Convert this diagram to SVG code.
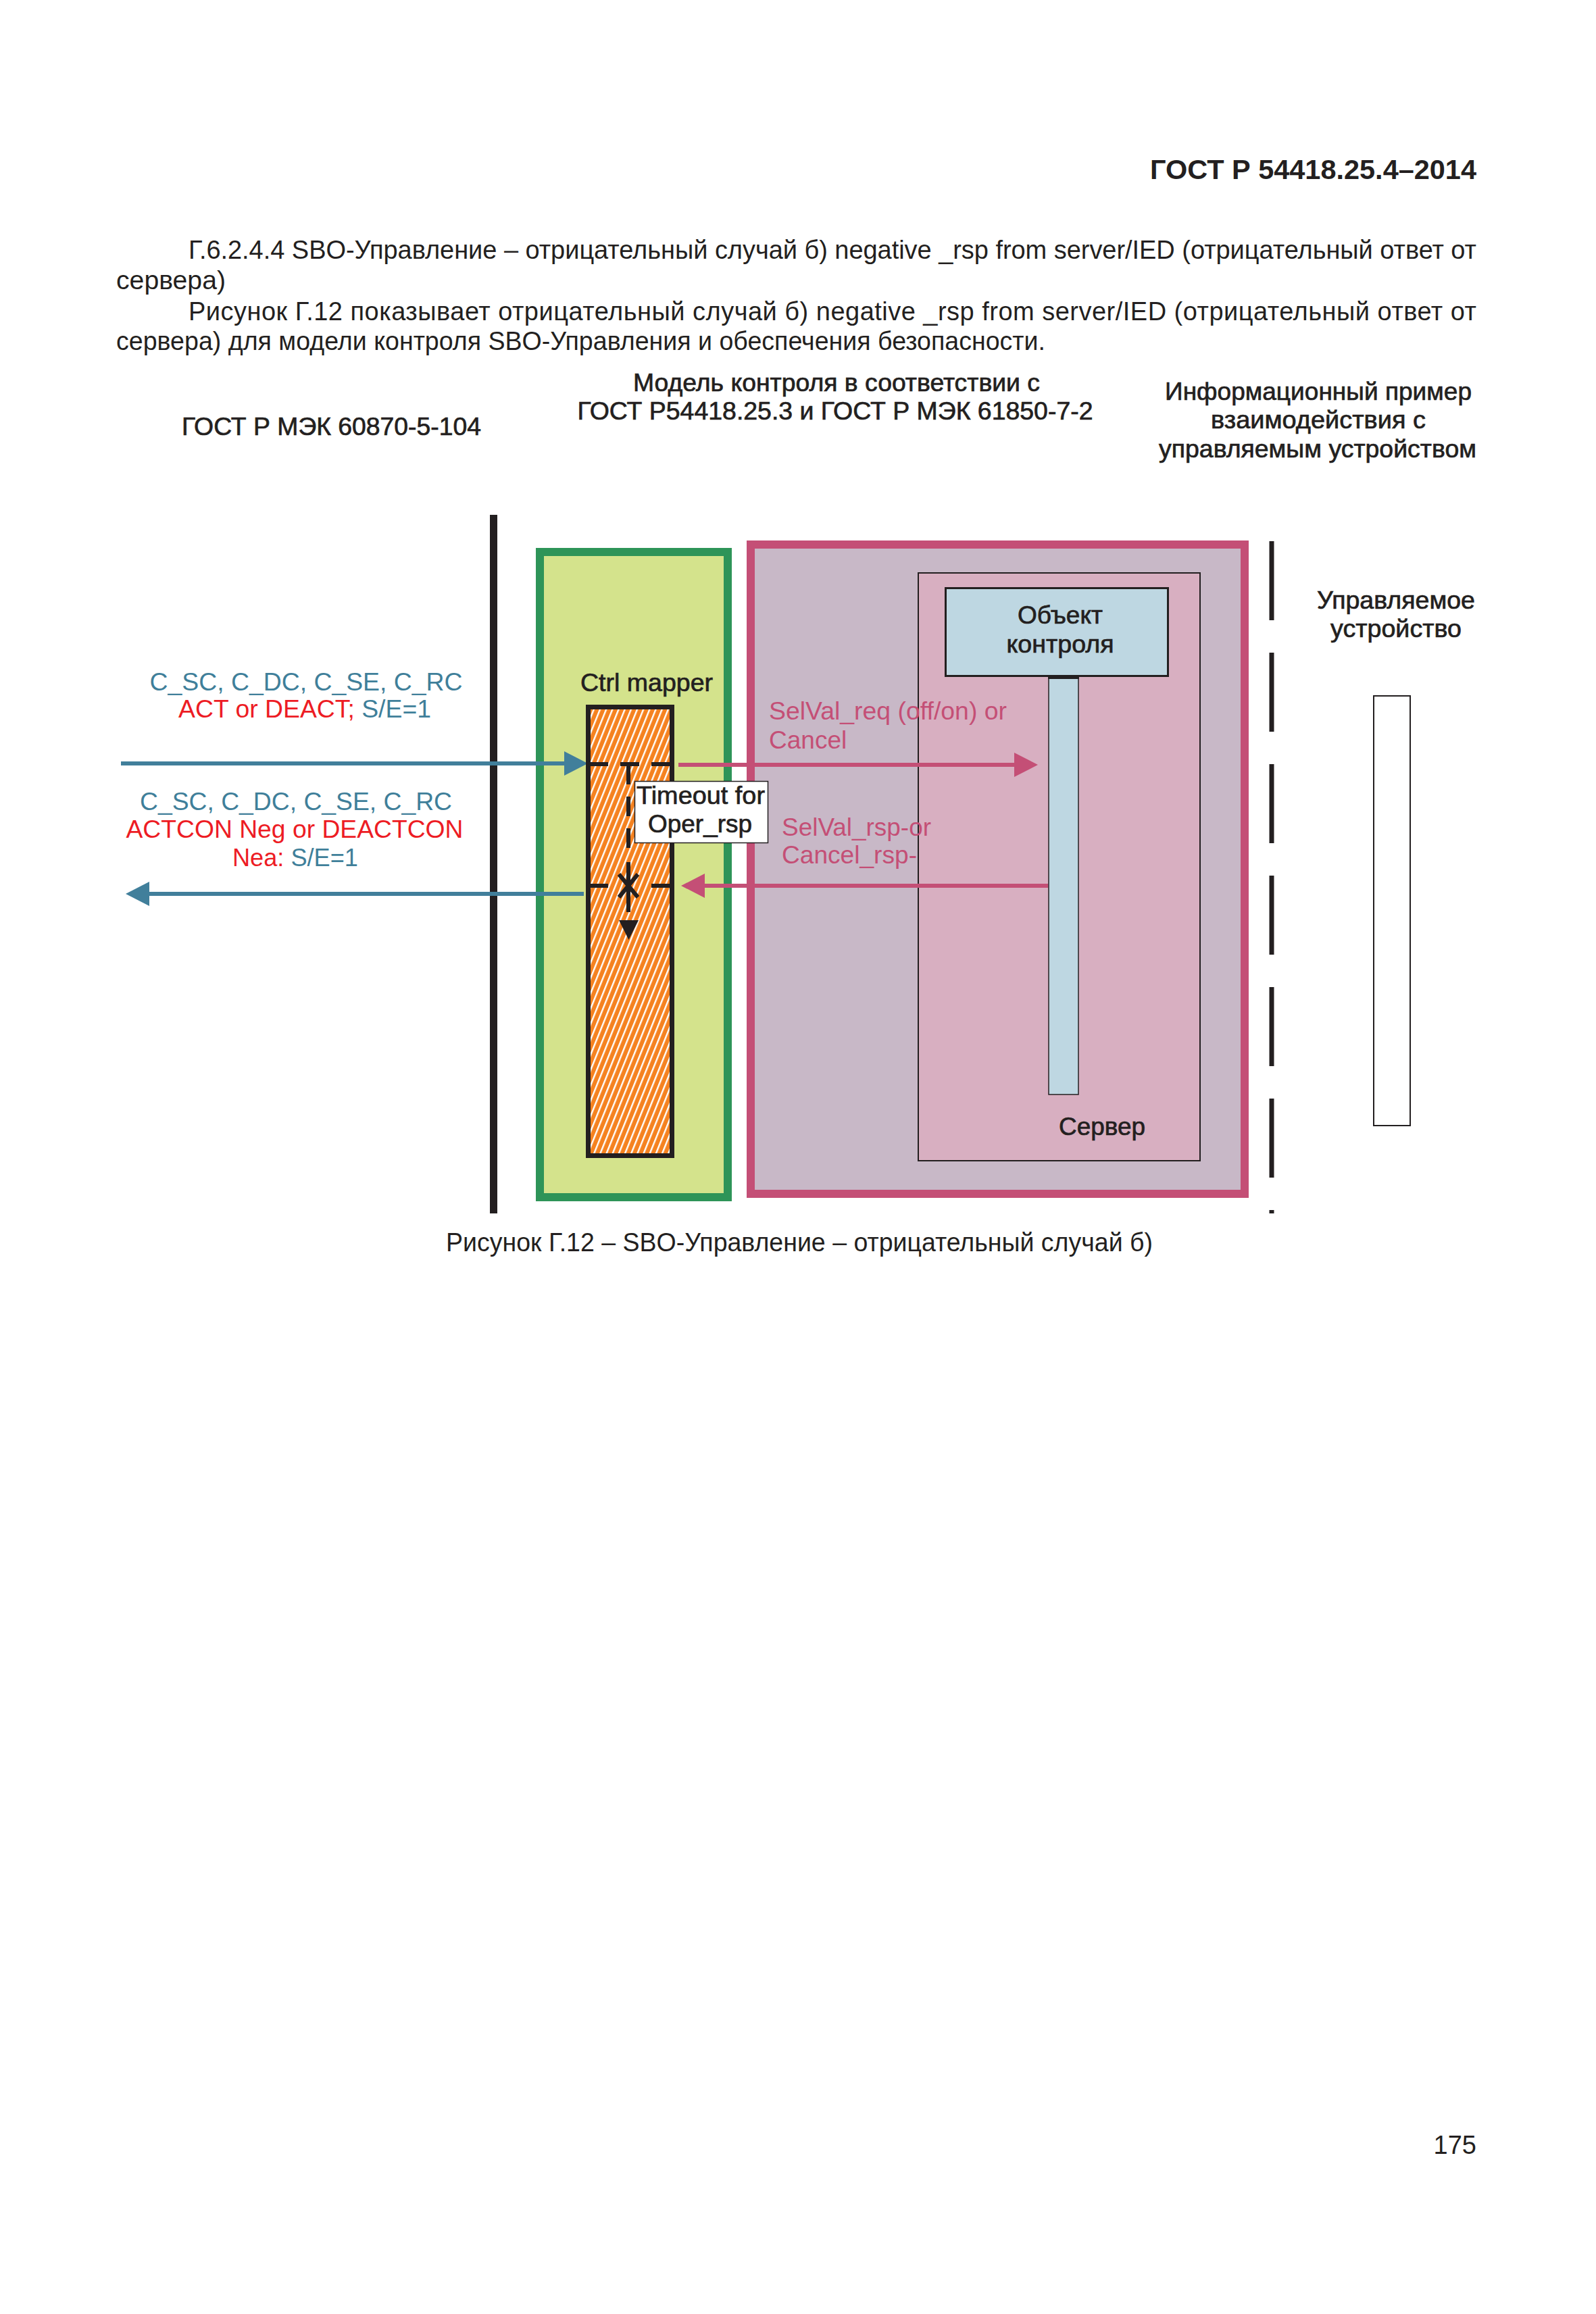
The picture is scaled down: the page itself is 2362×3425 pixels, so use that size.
<svg xmlns="http://www.w3.org/2000/svg" width="2362" height="3425" viewBox="0 0 2362 3425">
<style>
text{font-family:"Liberation Sans",Arial,sans-serif;font-size:37px;fill:#231f20}
.body{font-size:38px}
.hdr{font-weight:bold;font-size:40px}
.med{stroke:#231f20;stroke-width:0.7}
.blue{fill:#3f7f9a}
.red{fill:#ed1c24}
.pink{fill:#c44f76}
.c{text-anchor:middle}
</style>
<defs>
<pattern id="hatch" patternUnits="userSpaceOnUse" width="8.5" height="8.5" patternTransform="rotate(22)">
<rect width="8.5" height="8.5" fill="#f58220"/>
<rect x="0" y="0" width="2.4" height="8.5" fill="#ffffff"/>
</pattern>
<marker id="ahBlue" viewBox="0 0 35 36" refX="0" refY="18" markerWidth="35" markerHeight="36" markerUnits="userSpaceOnUse" orient="auto">
<path d="M0,0 L35,18 L0,36 Z" fill="#417f9b"/>
</marker>
<marker id="ahPink" viewBox="0 0 35 36" refX="0" refY="18" markerWidth="35" markerHeight="36" markerUnits="userSpaceOnUse" orient="auto">
<path d="M0,0 L35,18 L0,36 Z" fill="#c44f76"/>
</marker>
</defs>
<rect width="2362" height="3425" fill="#ffffff"/>

<g id="page-text">
<text class="hdr" x="2185" y="265" text-anchor="end" textLength="483" lengthAdjust="spacingAndGlyphs">ГОСТ Р 54418.25.4–2014</text>
<text class="body" x="279" y="383" textLength="1906" lengthAdjust="spacing">Г.6.2.4.4 SBO-Управление – отрицательный случай б) negative _rsp from server/IED (отрицательный ответ от</text>
<text class="body" x="172" y="428" textLength="162" lengthAdjust="spacingAndGlyphs">сервера)</text>
<text class="body" x="279" y="474" textLength="1906" lengthAdjust="spacing">Рисунок Г.12 показывает отрицательный случай б) negative _rsp from server/IED (отрицательный ответ от</text>
<text class="body" x="172" y="518" textLength="1375" lengthAdjust="spacingAndGlyphs">сервера) для модели контроля SBO-Управления и обеспечения безопасности.</text>
<text class="body" x="660" y="1852" textLength="1046" lengthAdjust="spacingAndGlyphs">Рисунок Г.12 – SBO-Управление – отрицательный случай б)</text>
<text class="body" x="2185" y="3188" text-anchor="end">175</text>
</g>

<g id="column-headers">
<text class="med" x="269" y="644" textLength="443" lengthAdjust="spacingAndGlyphs">ГОСТ Р МЭК 60870-5-104</text>
<text class="med c" x="1238" y="579" textLength="602" lengthAdjust="spacingAndGlyphs">Модель контроля в соответствии с</text>
<text class="med c" x="1236" y="621" textLength="763" lengthAdjust="spacingAndGlyphs">ГОСТ Р54418.25.3 и ГОСТ Р МЭК 61850-7-2</text>
<text class="med c" x="1951" y="592" textLength="454" lengthAdjust="spacingAndGlyphs">Информационный пример</text>
<text class="med c" x="1951" y="634" textLength="318" lengthAdjust="spacingAndGlyphs">взаимодействия с</text>
<text class="med c" x="1950" y="677" textLength="470" lengthAdjust="spacingAndGlyphs">управляемым устройством</text>
</g>

<g id="boundary-lines">
<rect x="725" y="762" width="11" height="1034" fill="#231f20"/>
<line x1="1882" y1="801" x2="1882" y2="1796" stroke="#231f20" stroke-width="7" stroke-dasharray="117 48"/>
</g>

<g id="ctrl-mapper-box">
<rect x="799" y="817" width="278" height="955" fill="#d4e38c" stroke="#2e9458" stroke-width="12"/>
<text class="med c" x="957" y="1023" textLength="196" lengthAdjust="spacingAndGlyphs">Ctrl mapper</text>
</g>

<g id="ctrl-mapper-state">
<rect x="870.5" y="1046.5" width="124" height="664" fill="url(#hatch)" stroke="#231f20" stroke-width="7"/>
</g>

<g id="server-box">
<rect x="1111" y="806" width="731" height="961" fill="#c8b8c7" stroke="#c44f76" stroke-width="12"/>
<rect x="1359" y="848" width="417" height="870" fill="#d8afc1" stroke="#231f20" stroke-width="2"/>
<text class="med c" x="1631" y="1680" textLength="128" lengthAdjust="spacingAndGlyphs">Сервер</text>
</g>

<g id="control-object">
<rect x="1399.5" y="870.5" width="329" height="130" fill="#bed7e2" stroke="#231f20" stroke-width="3"/>
<text class="med c" x="1569" y="923" textLength="126" lengthAdjust="spacingAndGlyphs">Объект</text>
<text class="med c" x="1569" y="966" textLength="159" lengthAdjust="spacingAndGlyphs">контроля</text>
</g>

<g id="object-lifeline">
<rect x="1552" y="1002" width="44" height="618" fill="#bed7e2" stroke="#231f20" stroke-width="1.5"/>
<rect x="1551" y="1000" width="46" height="5" fill="#231f20"/>
</g>

<g id="controlled-device">
<text class="med c" x="2066" y="901" textLength="234" lengthAdjust="spacingAndGlyphs">Управляемое</text>
<text class="med c" x="2066" y="943" textLength="194" lengthAdjust="spacingAndGlyphs">устройство</text>
<rect x="2033" y="1030" width="54" height="636" fill="#ffffff" stroke="#231f20" stroke-width="2"/>
</g>

<g id="timeout-note">
<rect x="939.5" y="1156.5" width="197" height="91" fill="#ffffff" stroke="#231f20" stroke-width="1.5"/>
<text class="med c" x="1037" y="1190" textLength="190" lengthAdjust="spacingAndGlyphs">Timeout for</text>
<text class="med c" x="1036" y="1232" textLength="154" lengthAdjust="spacingAndGlyphs">Oper_rsp</text>
</g>

<g id="message-labels">
<text class="blue c" x="453" y="1022" textLength="463" lengthAdjust="spacingAndGlyphs">C_SC, C_DC, C_SE, C_RC</text>
<text x="264" y="1062" textLength="374" lengthAdjust="spacingAndGlyphs"><tspan class="red">ACT or DEACT;</tspan><tspan class="blue"> S/E=1</tspan></text>
<text class="blue c" x="438" y="1199" textLength="462" lengthAdjust="spacingAndGlyphs">C_SC, C_DC, C_SE, C_RC</text>
<text class="red c" x="436" y="1240" textLength="499" lengthAdjust="spacingAndGlyphs">ACTCON Neg or DEACTCON</text>
<text x="344" y="1282" textLength="186" lengthAdjust="spacingAndGlyphs"><tspan class="red">Nea:</tspan><tspan class="blue"> S/E=1</tspan></text>
<text class="pink" x="1138" y="1065" textLength="352" lengthAdjust="spacingAndGlyphs">SelVal_req (off/on) or</text>
<text class="pink" x="1138" y="1108">Cancel</text>
<text class="pink" x="1157" y="1237" textLength="221" lengthAdjust="spacingAndGlyphs">SelVal_rsp-or</text>
<text class="pink" x="1157" y="1278" textLength="200" lengthAdjust="spacingAndGlyphs">Cancel_rsp-</text>
</g>

<g id="connectors">
<line x1="179" y1="1130" x2="835" y2="1130" stroke="#417f9b" stroke-width="6" marker-end="url(#ahBlue)"/>
<line x1="864" y1="1323" x2="221" y2="1323" stroke="#417f9b" stroke-width="6" marker-end="url(#ahBlue)"/>
<line x1="1004" y1="1132" x2="1501" y2="1132" stroke="#c44f76" stroke-width="6" marker-end="url(#ahPink)"/>
<line x1="1551" y1="1311" x2="1043" y2="1311" stroke="#c44f76" stroke-width="6" marker-end="url(#ahPink)"/>
<path d="M867 1131 H900 M918 1131 H946 M964 1131 H998 M867 1311 H900 M964 1311 H998" stroke="#231f20" stroke-width="6" fill="none"/>
<path d="M930 1131 V1161 M930 1179 V1208 M930 1226 V1255 M930 1276 V1350 M916 1294 L944 1328 M944 1294 L916 1328" stroke="#231f20" stroke-width="6" fill="none"/>
<polygon points="916,1362 945,1362 930.5,1391" fill="#231f20"/>
</g>
</svg>
